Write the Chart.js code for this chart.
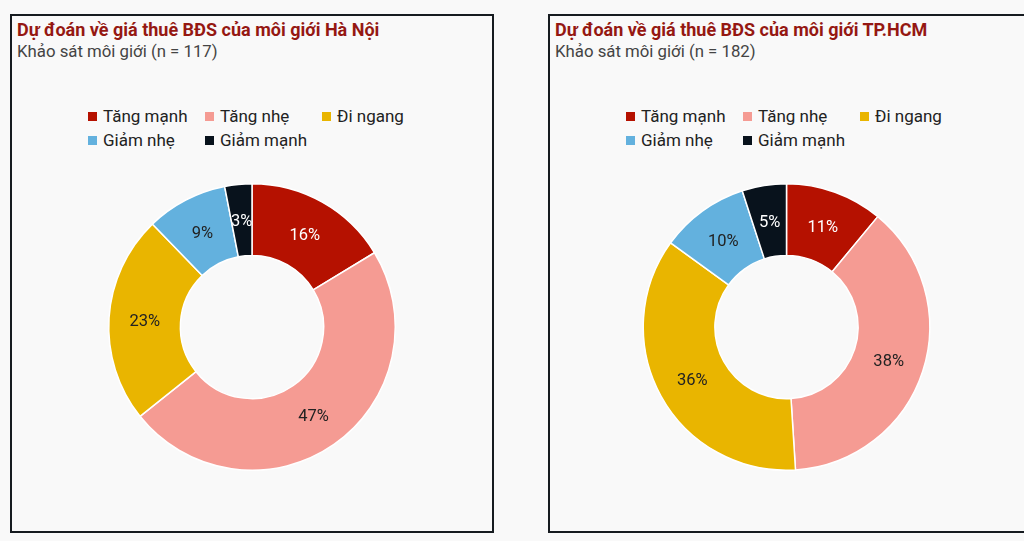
<!DOCTYPE html>
<html>
<head>
<meta charset="utf-8">
<script src="https://cdn.jsdelivr.net/npm/chart.js@4"></script>
<style>
  body { margin: 0; background: #f9f9f9; font-family: Roboto, sans-serif; width: 1024px; height: 541px; overflow: hidden; position: relative; }
  .panel { position: absolute; top: 14px; width: 480px; height: 515px; border: 2px solid #161b20; background: #f9f9f9; }
  .title { position: absolute; left: 5px; top: 3px; font-size: 18px; font-weight: bold; color: #951812; white-space: nowrap; }
  .sub { position: absolute; left: 5px; top: 25px; font-size: 16.8px; color: #444; white-space: nowrap; }
  .legend { position: absolute; left: 76px; top: 90px; display: grid; grid-template-columns: 117px 117px 117px; row-gap: 4px; }
  .legend div { font-size: 17px; color: #222; height: 20px; line-height: 20px; white-space: nowrap; }
  .legend span { display: inline-block; width: 9px; height: 9px; margin-right: 6px; vertical-align: 1px; }
  canvas { position: absolute; left: 0; top: 167px; }
</style>
</head>
<body>
<div class="panel" id="p1" style="left:10px">
  <div class="title">Dự đoán về giá thuê BĐS của môi giới Hà Nội</div>
  <div class="sub">Khảo sát môi giới (n = 117)</div>
  <div class="legend" id="leg1"></div>
  <canvas id="c1" width="480" height="288"></canvas>
</div>
<div class="panel" id="p2" style="left:548px">
  <div class="title">Dự đoán về giá thuê BĐS của môi giới TP.HCM</div>
  <div class="sub">Khảo sát môi giới (n = 182)</div>
  <div class="legend" id="leg2"></div>
  <canvas id="c2" width="480" height="288"></canvas>
</div>
<script>
const categories = ["Tăng mạnh", "Tăng nhẹ", "Đi ngang", "Giảm nhẹ", "Giảm mạnh"];
const hanoiValues = [16, 47, 23, 9, 3];
const hcmValues = [11, 38, 36, 10, 5];
const colors = ["#b51100", "#f59b93", "#e9b500", "#63b1de", "#08121c"];
const labelColors = ["#ffffff", "#222222", "#222222", "#222222", "#ffffff"];

// draws the "xx%" text at the middle of each slice
const sliceLabels = {
  id: "sliceLabels",
  afterDatasetsDraw(chart) {
    const ctx = chart.ctx;
    const meta = chart.getDatasetMeta(0);
    ctx.save();
    ctx.font = "16.5px Roboto";
    ctx.textAlign = "center";
    ctx.textBaseline = "middle";
    meta.data.forEach((arc, i) => {
      const pos = arc.tooltipPosition();
      ctx.fillStyle = labelColors[i];
      ctx.fillText(chart.data.datasets[0].data[i] + "%", pos.x, pos.y + 2);
    });
    ctx.restore();
  }
};

function makeLegend(id) {
  const el = document.getElementById(id);
  categories.forEach((c, i) => {
    const d = document.createElement("div");
    d.innerHTML = '<span style="background:' + colors[i] + '"></span>' + c;
    el.appendChild(d);
  });
}

function makeChart(id, values, pad) {
  return new Chart(document.getElementById(id), {
    type: "doughnut",
    data: {
      labels: categories,
      datasets: [{
        data: values,
        backgroundColor: colors,
        borderColor: "#ffffff",
        borderWidth: 1.5,
      }],
    },
    options: {
      responsive: false,
      animation: false,
      cutout: "50%",
      layout: { padding: pad },
      plugins: {
        legend: { display: false },
        tooltip: { enabled: false },
      },
    },
    plugins: [sliceLabels],
  });
}

makeLegend("leg1");
makeLegend("leg2");
makeChart("c1", hanoiValues, { left: 0, right: 0 });
makeChart("c2", hcmValues, { left: 0, right: 7 });
</script>
</body>
</html>
